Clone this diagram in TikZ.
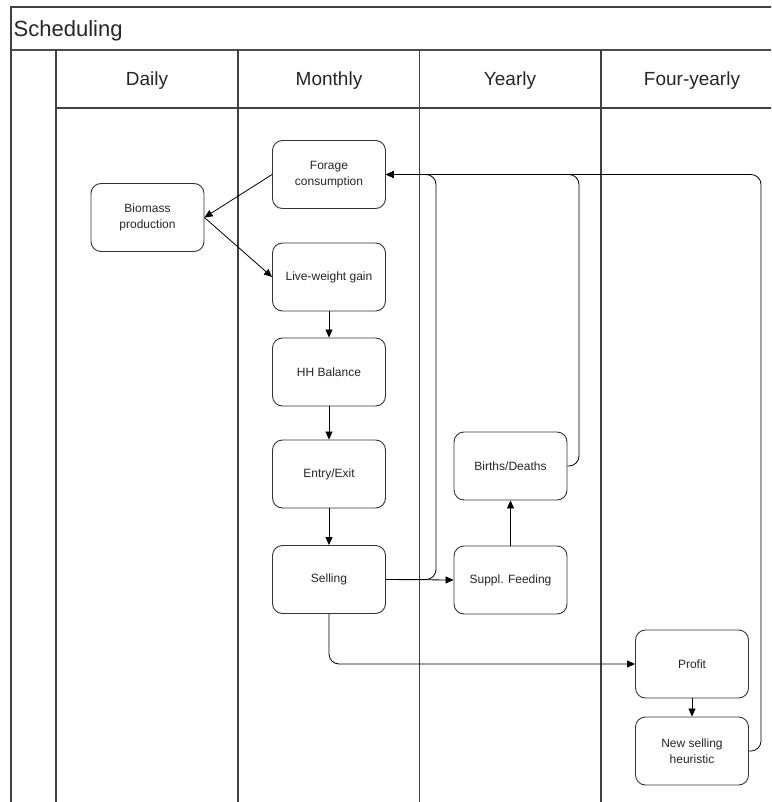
\documentclass[tikz,border=0pt]{standalone}
\usepackage{fontspec}
\setmainfont{Liberation Sans}
\usetikzlibrary{arrows.meta}
\begin{document}
\begin{tikzpicture}[x=1pt,y=-1pt,
  box/.style={draw=black!80, fill=white, line width=0.9pt, rounded corners=10pt,
    minimum width=113pt, minimum height=68pt, align=center, inner sep=0pt,
    font=\fontsize{12}{15.5}\selectfont, text=black!85},
  lane/.style={draw=black!75, line width=1.3pt},
  conn/.style={draw=black, line width=0.8pt, rounded corners=10pt,
    -{Triangle[length=8pt,width=7pt]}},
  hdr/.style={font=\fontsize{19}{22}\selectfont, text=black!85, inner sep=0pt, anchor=base}]
\useasboundingbox (0,0) rectangle (771,802);
\begin{scope}
  \clip (0,0) rectangle (771,802);
  \draw[lane] (11,805) -- (11,7) -- (780,7);
  \draw[draw=black!70, line width=2pt] (11,50.5) -- (780,50.5);
  \draw[lane] (56,108) -- (780,108);
  \foreach \x in {56,238,419.5,601} \draw[lane] (\x,50.5) -- (\x,805);
\end{scope}
\node[font=\fontsize{22}{26}\selectfont, text=black!85, inner sep=0pt, anchor=base west] (title) at (13.5,37) {Scheduling};
\node[hdr] (hdaily) at (147,86) {Daily};
\node[hdr] (hmonthly) at (329,86) {Monthly};
\node[hdr] (hyearly) at (510,86) {Yearly};
\node[hdr] (hfour) at (692,86) {Four-yearly};

\node[box] (forage) at (329,174.5) {Forage\\consumption};
\node[box] (biomass) at (147.5,217.5) {Biomass\\production};
\node[box] (lwg) at (329,277) {Live-weight gain};
\node[box] (hh) at (329,372) {HH Balance};
\node[box] (entry) at (329,474) {Entry/Exit};
\node[box] (selling) at (329,579.5) {Selling};
\node[box] (suppl) at (510.5,580) {Suppl. Feeding};
\node[box] (births) at (510.5,466) {Births/Deaths};
\node[box] (profit) at (692,664) {Profit};
\node[box] (newsell) at (692,751) {New selling\\heuristic};

\coordinate (c1) at (436,174.5);
\coordinate (c2) at (579,174.5);
\coordinate (c3) at (761,174.5);

\draw[conn] (forage.west) -- (biomass.east);
\draw[conn] (biomass.east) -- (lwg.west);
\draw[conn] (lwg.south) -- (hh.north);
\draw[conn] (hh.south) -- (entry.north);
\draw[conn] (entry.south) -- (selling.north);
\draw[conn] (selling.east) -- (suppl.west);
\draw[conn] (selling.east) -| (c1) -- (forage.east);
\draw[conn] (suppl.north) -- (births.south);
\draw[conn] (births.east) -| (c2) -- (forage.east);
\draw[conn] (selling.south) |- (profit.west);
\draw[conn] (profit.south) -- (newsell.north);
\draw[conn] (newsell.east) -| (c3) -- (forage.east);
\end{tikzpicture}
\end{document}
